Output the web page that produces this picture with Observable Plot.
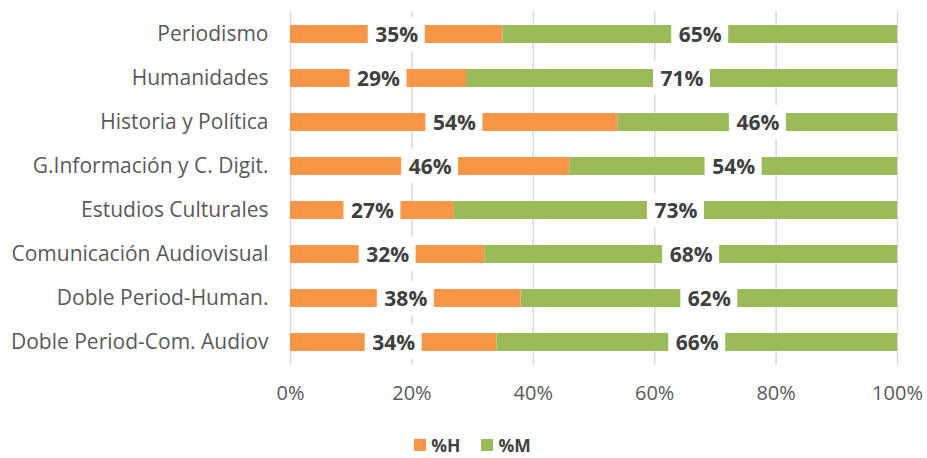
<!DOCTYPE html>
<html>
<head>
<meta charset="utf-8">
<script src="https://cdn.jsdelivr.net/npm/d3@7"></script>
<script src="https://cdn.jsdelivr.net/npm/@observablehq/plot@0.6"></script>
<style>
  html, body { margin: 0; padding: 0; background: #fff; }
  #chart { width: 927px; height: 415px; }
  .legend { display: flex; justify-content: center; align-items: center; gap: 21px; font-family: "Open Sans", sans-serif; font-weight: bold; font-size: 17.5px; line-height: 16px; height: 16px; color: #404040; margin-left: 18px; margin-top: 22px; }
  .legend span.item { display: flex; align-items: center; gap: 5px; }
  .legend span.sw { width: 12px; height: 12px; display: inline-block; }
</style>
</head>
<body>
<div id="chart"></div>
<script>
const categories = ["Periodismo", "Humanidades", "Historia y Política", "G.Información y C. Digit.", "Estudios Culturales", "Comunicación Audiovisual", "Doble Period-Human.", "Doble Period-Com. Audiov"];
const seriesNames = ["%H", "%M"];
const valuesH = [35, 29, 54, 46, 27, 32, 38, 34];
const valuesM = [65, 71, 46, 54, 73, 68, 62, 66];
const xTicks = [0, 20, 40, 60, 80, 100];
const colors = ["#F79646", "#9BBB59"];

const data = [];
categories.forEach((c, i) => {
  data.push({cat: c, series: seriesNames[0], start: 0, end: valuesH[i], mid: valuesH[i] / 2, label: valuesH[i] + "%"});
  data.push({cat: c, series: seriesNames[1], start: valuesH[i], end: valuesH[i] + valuesM[i], mid: valuesH[i] + valuesM[i] / 2, label: valuesM[i] + "%"});
});

const font = "'Open Sans', sans-serif";

const chart = Plot.plot({
  width: 927,
  height: 415,
  marginLeft: 290,
  marginRight: 30,
  marginTop: 11,
  marginBottom: 50,
  style: {fontFamily: font, fontSize: "19px", color: "#595959", background: "#fff"},
  x: {domain: [0, 100], label: null},
  y: {domain: categories, label: null, paddingInner: 0.59, paddingOuter: 0.29},
  color: {domain: seriesNames, range: colors},
  marks: [
    Plot.gridX(xTicks, {stroke: "#d9d9d9", strokeOpacity: 1, strokeWidth: 1.5}),
    Plot.barX(data, {y: "cat", x1: "start", x2: "end", fill: "series"}),
    Plot.barX(data, {y: "cat", x1: "mid", x2: "mid", fill: "white", insetLeft: -28.5, insetRight: -28.5, insetTop: -8, insetBottom: -8}),
    Plot.text(data, {y: "cat", x: "mid", text: "label", fill: "#404040", fontWeight: "bold", fontSize: 21, dy: 1}),
    Plot.axisX({ticks: xTicks, tickFormat: d => d + "%", tickSize: 0, tickPadding: 20, fill: "#595959", fontSize: 20, label: null}),
    Plot.axisY({tickSize: 0, tickPadding: 22, fill: "#595959", fontSize: 21, label: null})
  ]
});
document.getElementById("chart").appendChild(chart);

const legend = document.createElement("div");
legend.className = "legend";
seriesNames.forEach((s, i) => {
  const item = document.createElement("span");
  item.className = "item";
  const sw = document.createElement("span");
  sw.className = "sw";
  sw.style.background = colors[i];
  item.appendChild(sw);
  item.appendChild(document.createTextNode(s));
  legend.appendChild(item);
});
document.body.appendChild(legend);
</script>
</body>
</html>
